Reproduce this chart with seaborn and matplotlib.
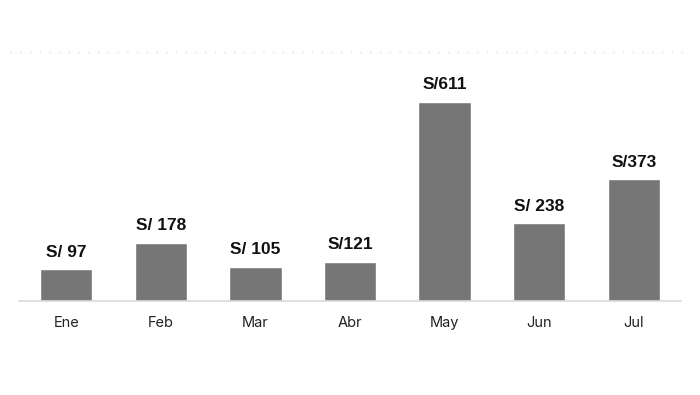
import pandas as pd
import seaborn as sns
import matplotlib.pyplot as plt
from matplotlib.lines import Line2D

# Datos
meses = ["Ene", "Feb", "Mar", "Abr", "May", "Jun", "Jul"]
montos = [97, 178, 105, 121, 611, 238, 373]
etiquetas = ["S/ 97", "S/ 178", "S/ 105", "S/121", "S/611", "S/ 238", "S/373"]

df = pd.DataFrame({"mes": meses, "monto": montos})

sns.set_style("white")
plt.rcParams["font.family"] = ["Inter", "DejaVu Sans"]

fig = plt.figure(figsize=(7, 3.95), dpi=100)
ax = fig.add_axes([0.027, 0.238, 0.946, 0.63])

sns.barplot(data=df, x="mes", y="monto", color="#767676", width=0.555,
            saturation=1, ax=ax)

for i, (m, t) in enumerate(zip(montos, etiquetas)):
    ax.annotate(t, (i, m), xytext=(0, 7), textcoords="offset points",
                ha="center", va="bottom", fontsize=12.5, fontweight="bold",
                family=["Liberation Sans", "DejaVu Sans"], color="#111111")

ax.set_xlim(-0.5, 6.5)
ax.set_ylim(0, 764)
ax.set_xlabel("")
ax.set_ylabel("")
ax.set_yticks([])
ax.tick_params(axis="x", length=0, pad=10.5, labelsize=10.5, labelcolor="#222222")

for s in ["top", "right", "left"]:
    ax.spines[s].set_visible(False)
ax.spines["bottom"].set_color("#d9d9d9")
ax.spines["bottom"].set_linewidth(1.2)

# línea punteada superior
fig.add_artist(Line2D([0.014, 0.986], [0.868, 0.868], transform=fig.transFigure,
                      color="#dddddd", linestyle=(0, (1, 6)), linewidth=1))

fig.savefig("out.png", dpi=100)
